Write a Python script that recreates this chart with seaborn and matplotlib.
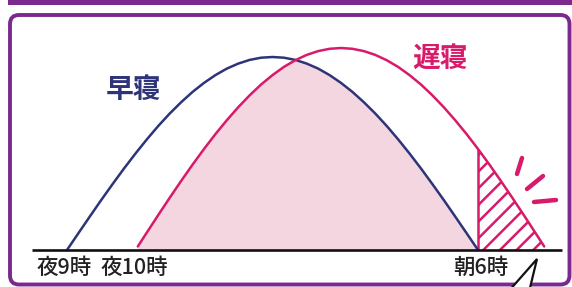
import numpy as np
import matplotlib
matplotlib.use("Agg")
import matplotlib.pyplot as plt
import seaborn as sns
from matplotlib.patches import FancyBboxPatch, Polygon, Rectangle

sns.set_theme(style="white")
plt.rcParams['font.family'] = ['Noto Sans CJK JP', 'DejaVu Sans']
plt.rcParams['hatch.linewidth'] = 1.8

# ---- data (time in hours, 21 = 夜9時, 30 = 朝6時; level = sleepiness) ----
early_hours = [21, 21.25, 21.5, 21.75, 22, 22.25, 22.5, 22.75, 23, 23.25,
               23.5, 23.75, 24, 24.25, 24.5, 24.75, 25, 25.25, 25.5,
               25.75, 26, 26.25, 26.5, 26.75, 27, 27.25, 27.5, 27.75,
               28, 28.25, 28.5, 28.75, 29, 29.25, 29.5, 29.75, 30]
early_level = [0, 16.8, 33.5, 50.0, 66.0, 81.6, 96.5, 110.7, 124.1, 136.5,
               147.8, 158.1, 167.1, 174.9, 181.4, 186.4, 190.1, 192.3, 193,
               192.3, 190.1, 186.4, 181.4, 174.9, 167.1, 158.1, 147.8, 136.5,
               124.1, 110.7, 96.5, 81.6, 66.0, 50.0, 33.5, 16.8, 0]

late_hours = [22.55, 22.75, 23, 23.25, 23.5, 23.75, 24, 24.25, 24.5, 24.75,
              25, 25.25, 25.5, 25.75, 26, 26.25, 26.5, 26.75, 27,
              27.25, 27.5, 27.75, 28, 28.25, 28.5, 28.75, 29, 29.25,
              29.5, 29.75, 30, 30.25, 30.5, 30.75, 31, 31.25, 31.45]
late_level = [3.5, 17.6, 35.1, 52.3, 69.1, 85.4, 101, 115.9, 129.8, 142.8,
              154.7, 165.5, 174.9, 183.1, 189.8, 195.1, 198.9, 201.2, 202,
              201.2, 198.9, 195.1, 189.8, 183.1, 174.9, 165.5, 154.7, 142.8,
              129.8, 115.9, 101, 85.4, 69.1, 52.3, 35.1, 17.6, 3.5]

tick_pos = [20.93, 22.47, 30.05]
tick_labels = ['夜9時', '夜10時', '朝6時']
series_labels = ['早寝', '遅寝']
wake_hour = 30

NAVY = '#2e3478'
MAGENTA = '#d81a6a'
PINK = '#f3d6df'
PURPLE = '#7a2a8c'

fig = plt.figure(figsize=(5.72, 2.87), dpi=100)
ax = fig.add_axes([0, 0, 1, 1])
ax.set_xlim(19.533, 32.058)
ax.set_ylim(-37, 250)
ax.axis('off')

# pink overlap area: under late curve, clipped to area under early curve
pink = ax.fill_between(late_hours, 0, late_level, color=PINK, linewidth=0, zorder=1)
clip_poly = ax.fill(early_hours, early_level, facecolor='none', edgecolor='none')[0]
pink.set_clip_path(clip_poly)

# hatched area after wake time
lh = np.array(late_hours)
ll = np.array(late_level)
m = lh >= wake_hour
ax.fill_between(lh[m], 0, ll[m], facecolor='none', edgecolor=MAGENTA,
                hatch='//', linewidth=0, zorder=2)
ax.vlines(wake_hour, 0, ll[lh == wake_hour][0], color=MAGENTA, lw=1.8, zorder=3)

# curves
sns.lineplot(x=early_hours, y=early_level, color=NAVY, lw=1.8, ax=ax, zorder=4)
sns.lineplot(x=late_hours, y=late_level, color=MAGENTA, lw=1.8, ax=ax, zorder=4)

# baseline
ax.hlines(0, 20.234, 31.84, color='#111111', lw=1.9, zorder=5)

for p, t in zip(tick_pos, tick_labels):
    ax.text(p, -18, t, ha='center', va='center', fontsize=15.5, color='#222222',
            fontweight='medium')

ax.text(22.45, 160, series_labels[0], ha='center', va='center', fontsize=20,
        fontweight='bold', color=NAVY)
ax.text(29.17, 191, series_labels[1], ha='center', va='center', fontsize=20,
        fontweight='bold', color=MAGENTA)

# ---- decorations in pixel coordinates ----
deco = fig.add_axes([0, 0, 1, 1], facecolor='none')
deco.set_xlim(0, 572)
deco.set_ylim(287, 0)
deco.axis('off')

deco.add_patch(Rectangle((8, -2), 570, 7, color=PURPLE, lw=0))
deco.add_patch(FancyBboxPatch((10, 15), 559.5, 269.5,
                              boxstyle='round,pad=0,rounding_size=9',
                              facecolor='none', edgecolor=PURPLE, lw=2.8))

for (x0, y0, x1, y1) in [(522, 158, 517, 174), (543, 176, 527, 189), (556, 200, 534, 202)]:
    deco.plot([x0, x1], [y0, y1], color=MAGENTA, lw=3.2, solid_capstyle='round')

deco.add_patch(Polygon([(537, 259), (508, 292), (529, 292)], closed=True,
                       facecolor='white', edgecolor='#111111', lw=1.6, zorder=6))

fig.savefig('out.png', dpi=100)
